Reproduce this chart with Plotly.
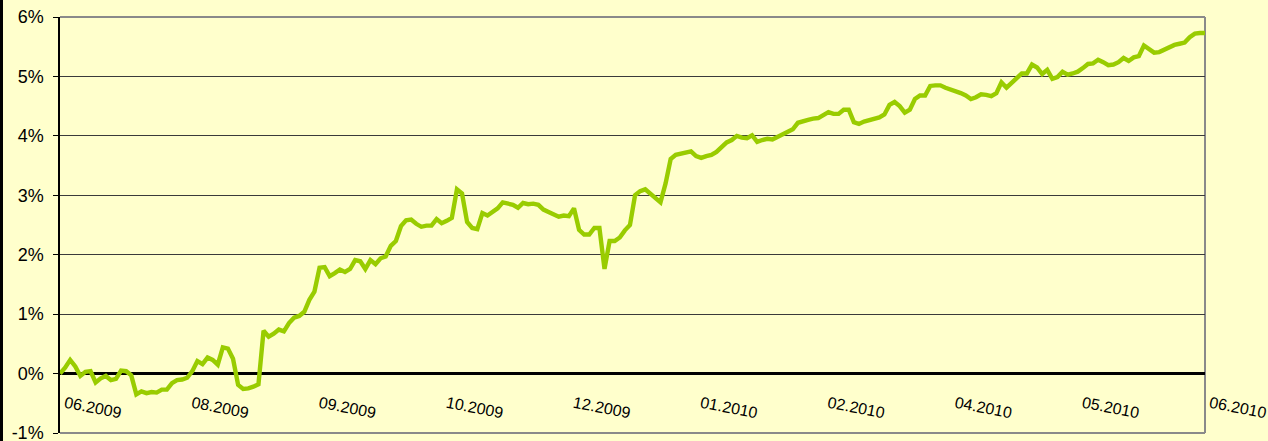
import plotly.graph_objects as go

# Cumulative return (%), one value per trading-day slot
values = [
    0.00, 0.10, 0.23, 0.12, -0.04, 0.03, 0.04, -0.15, -0.08, -0.04,
    -0.11, -0.09, 0.05, 0.04, -0.03, -0.35, -0.30, -0.33, -0.31, -0.32,
    -0.27, -0.27, -0.16, -0.11, -0.10, -0.07, 0.04, 0.21, 0.16, 0.27,
    0.23, 0.15, 0.44, 0.42, 0.25, -0.19, -0.26, -0.25, -0.22, -0.18,
    0.72, 0.62, 0.67, 0.74, 0.71, 0.85, 0.94, 0.97, 1.04, 1.24,
    1.38, 1.78, 1.79, 1.64, 1.69, 1.75, 1.71, 1.76, 1.91, 1.89,
    1.76, 1.91, 1.84, 1.94, 1.97, 2.15, 2.23, 2.48, 2.58, 2.59,
    2.52, 2.47, 2.49, 2.49, 2.60, 2.53, 2.57, 2.62, 3.10, 3.03,
    2.55, 2.45, 2.43, 2.70, 2.66, 2.73, 2.78, 2.88, 2.86, 2.84,
    2.79, 2.87, 2.85, 2.86, 2.84, 2.76, 2.72, 2.67, 2.64, 2.66,
    2.65, 2.78, 2.42, 2.34, 2.34, 2.45, 2.45, 1.76, 2.23, 2.23,
    2.29, 2.41, 2.50, 3.00, 3.07, 3.10, 3.02, 2.94, 2.88, 3.20,
    3.61, 3.68, 3.70, 3.73, 3.74, 3.66, 3.63, 3.66, 3.68, 3.73,
    3.82, 3.89, 3.93, 4.00, 3.97, 3.96, 4.01, 3.90, 3.93, 3.95,
    3.94, 3.98, 4.04, 4.08, 4.11, 4.22, 4.25, 4.27, 4.29, 4.30,
    4.35, 4.40, 4.37, 4.37, 4.44, 4.44, 4.23, 4.20, 4.24, 4.26,
    4.28, 4.31, 4.36, 4.52, 4.57, 4.50, 4.39, 4.44, 4.62, 4.68,
    4.68, 4.84, 4.85, 4.85, 4.81, 4.78, 4.76, 4.72, 4.68, 4.62,
    4.65, 4.70, 4.69, 4.67, 4.72, 4.90, 4.81, 4.88, 4.97, 5.05,
    5.05, 5.20, 5.15, 5.04, 5.11, 4.96, 4.99, 5.08, 5.03, 5.05,
    5.08, 5.14, 5.21, 5.22, 5.28, 5.24, 5.19, 5.20, 5.24, 5.31,
    5.26, 5.32, 5.34, 5.52, 5.47, 5.40, 5.41, 5.45, 5.51, 5.53,
    5.55, 5.57, 5.66, 5.72, 5.73, 5.73,
]

tick_step = 25
tick_labels = ["06.2009", "08.2009", "09.2009", "10.2009", "12.2009",
               "01.2010", "02.2010", "04.2010", "05.2010", "06.2010"]
y_ticks = [-1, 0, 1, 2, 3, 4, 5, 6]

x_idx = list(range(len(values)))
tick_pos = [i * tick_step for i in range(len(tick_labels))]

W, H = 1268, 441
ml, mr, mt, mb = 60, 63, 17, 8
plot_w = W - ml - mr
plot_h = H - mt - mb

fig = go.Figure()
fig.add_trace(go.Scatter(
    x=x_idx, y=values, mode="lines",
    line=dict(color="#99CC00", width=4.4),
    hoverinfo="skip", showlegend=False,
))

ymin, ymax = y_ticks[0], y_ticks[-1]

fig.update_layout(
    width=W, height=H,
    margin=dict(l=ml, r=mr, t=mt, b=mb, pad=0, autoexpand=False),
    paper_bgcolor="#FFFFCC", plot_bgcolor="#FFFFCC",
    font=dict(family="Liberation Sans, Arial, sans-serif", color="black"),
    xaxis=dict(
        range=[0, len(values) - 1],
        tickvals=tick_pos, ticktext=tick_labels,
        tickangle=11,
        showgrid=False, zeroline=False, showline=False,
        ticks="", anchor="free",
        position=(0 - ymin) / (ymax - ymin),
        ticklabelstandoff=17,
        ticklabelshift=5,
        ticklabeloverflow="allow",
        tickfont=dict(size=16, color="black"),
        automargin=False,
    ),
    yaxis=dict(
        range=[ymin, ymax], tickvals=y_ticks,
        ticktext=[f"{v}%" for v in y_ticks],
        showgrid=True, gridcolor="#3a3a3a", gridwidth=1,
        zeroline=True, zerolinecolor="black", zerolinewidth=3,
        showline=True, linecolor="black", linewidth=1.5,
        ticks="outside", ticklen=5, tickcolor="black", tickwidth=1,
        ticklabelstandoff=6,
        ticklabeloverflow="allow",
        tickfont=dict(size=18, color="black"),
        automargin=False,
    ),
    shapes=[
        # plot frame: top, right, bottom
        dict(type="line", xref="paper", yref="paper", x0=0, x1=1, y0=1, y1=1,
             line=dict(color="#8a8a8a", width=2), layer="below"),
        dict(type="line", xref="paper", yref="paper", x0=1, x1=1, y0=0, y1=1,
             line=dict(color="#8a8a8a", width=2), layer="below"),
        dict(type="line", xref="paper", yref="paper", x0=0, x1=1, y0=0, y1=0,
             line=dict(color="#8a8a8a", width=2), layer="below"),
        # chart outer left border
        dict(type="line", xref="paper", yref="paper",
             x0=(1.5 - ml) / plot_w, x1=(1.5 - ml) / plot_w,
             y0=-mb / plot_h - 0.01, y1=1 + mt / plot_h + 0.01,
             line=dict(color="black", width=3), layer="above"),
    ],
)

fig.write_html(
    "out.html",
    config={"displayModeBar": False},
    post_script="document.body.style.margin='0';"
                "document.body.style.background='#FFFFCC';",
)
